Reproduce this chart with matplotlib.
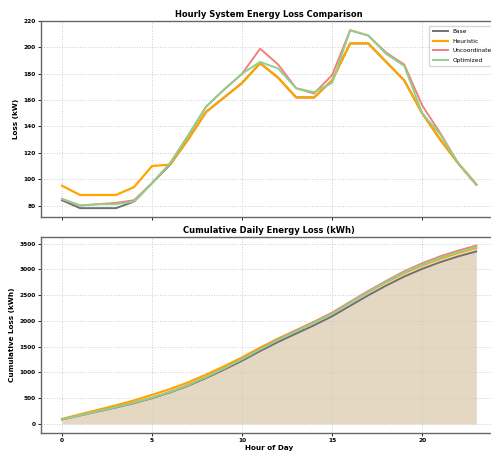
import numpy as np
import matplotlib
matplotlib.use("Agg")
import matplotlib.pyplot as plt

hours = list(range(24))

base = [84, 78, 78, 78, 83, 97, 111, 130, 151, 162, 173, 188,
        177, 162, 162, 175, 203, 203, 189, 175, 150, 130, 112, 96]
heuristic = [95, 88, 88, 88, 94, 110, 111, 130, 151, 162, 173, 188,
             177, 162, 162, 175, 203, 203, 189, 175, 150, 130, 112, 96]
uncoordinated = [85, 80, 81, 82, 84, 97, 112, 133, 155, 168, 180, 199,
                 187, 169, 165, 179, 213, 209, 196, 187, 156, 135, 112, 96]
optimized = [85, 80, 81, 81, 83, 97, 112, 133, 155, 168, 180, 189,
             184, 169, 166, 173, 213, 209, 195, 186, 150, 134, 112, 96]

series = [
    ("Base", base, "#707070", 1.4),
    ("Heuristic", heuristic, "#ffa500", 1.6),
    ("Uncoordinated", uncoordinated, "#f08080", 1.4),
    ("Optimized", optimized, "#90d08a", 1.4),
]

plt.rcParams["font.family"] = "DejaVu Sans"

fig = plt.figure(figsize=(4.91, 4.53), dpi=100)
ax1 = fig.add_axes([0.0841, 0.5216, 0.928, 0.432])
ax2 = fig.add_axes([0.0841, 0.0448, 0.928, 0.4327], sharex=ax1)

# hourly losses
for name, vals, color, lw in series:
    ax1.plot(hours, vals, color=color, linewidth=lw, label=name)
ax1.set_ylim(71.5, 220)
ax1.set_title("Hourly System Energy Loss Comparison", fontsize=6,
              fontweight="bold", pad=3)
ax1.set_ylabel("Loss (kW)", fontsize=5.2, fontweight="bold", labelpad=3)
leg = ax1.legend(loc="upper left", bbox_to_anchor=(0.845, 0.99),
                 prop={"size": 4.2}, handlelength=2.6, labelspacing=0.75,
                 borderpad=0.6, fancybox=True)
leg.get_frame().set_edgecolor("#cccccc")
plt.setp(ax1.get_xticklabels(), visible=False)

# cumulative losses
for name, vals, color, lw in series:
    cum = np.cumsum(vals)
    ax2.plot(hours, cum, color=color, linewidth=lw)
    ax2.fill_between(hours, 0, cum, color=color, alpha=0.11, linewidth=0)
ax2.set_title("Cumulative Daily Energy Loss (kWh)", fontsize=6,
              fontweight="bold", pad=3)
ax2.set_ylabel("Cumulative Loss (kWh)", fontsize=5.2, fontweight="bold",
               labelpad=3)
ax2.set_xlabel("Hour of Day", fontsize=5.2, fontweight="bold", labelpad=1)
ax2.set_xticks([0, 5, 10, 15, 20])

for ax in (ax1, ax2):
    ax.grid(True, linestyle=":", color="#cccccc", linewidth=0.7)
    ax.tick_params(labelsize=4.2, length=2, width=0.6, pad=2)
    for lbl in ax.get_xticklabels() + ax.get_yticklabels():
        lbl.set_fontweight("bold")
    for sp in ax.spines.values():
        sp.set_color("#666666")
        sp.set_linewidth(1.0)

fig.savefig("out.png", dpi=100)
